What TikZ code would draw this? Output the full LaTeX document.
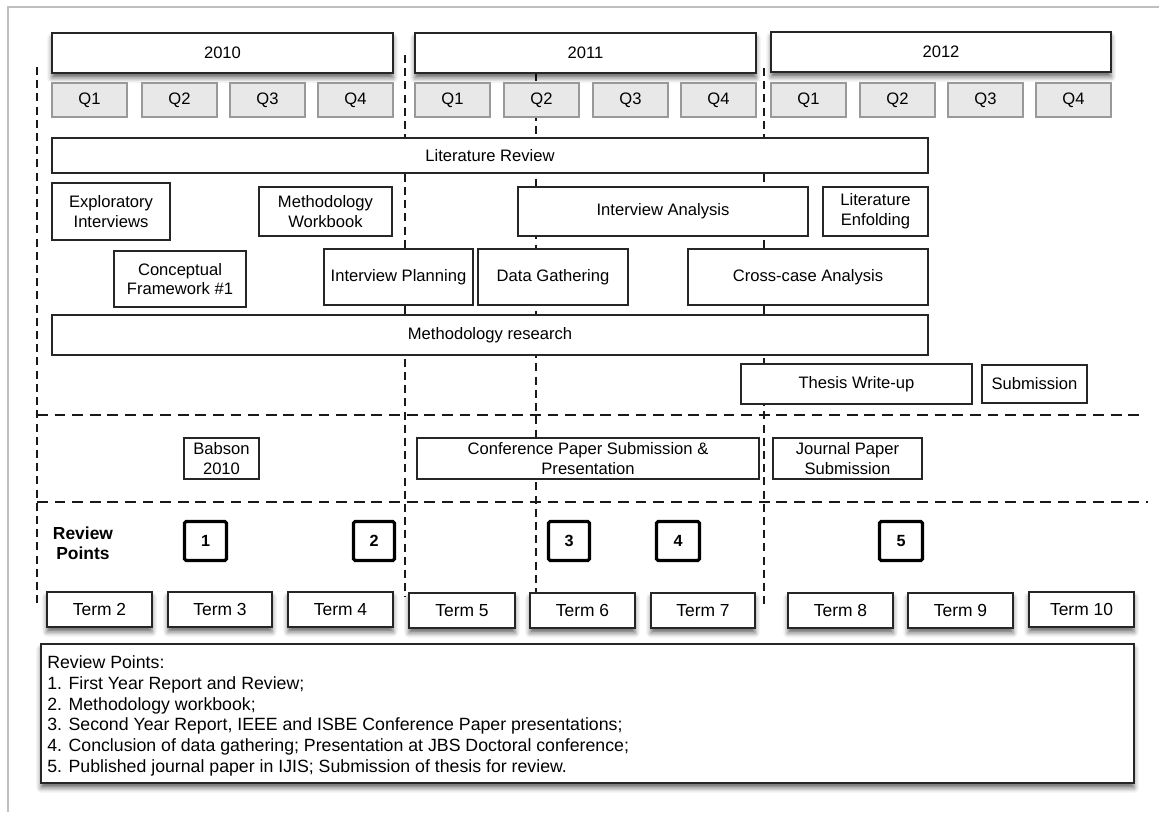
\documentclass[tikz,border=0pt]{standalone}
\usepackage{fontspec}
\setmainfont{Liberation Sans}
\usetikzlibrary{shadows.blur}
\tikzset{
  basebox/.style={draw=black!85, line width=0.8pt, fill=white, inner sep=0pt, align=center,
    font=\fontsize{11.8}{14}\selectfont},
  shadowed/.style={blur shadow={shadow xshift=0pt, shadow yshift=-3.5pt, shadow blur radius=3.5pt, shadow opacity=60}},
  yearbox/.style={basebox, line width=1pt, shadowed},
  qbox/.style={basebox, draw=black!40, fill=black!9},
  taskbox/.style={basebox},
  termbox/.style={basebox, line width=0.9pt, shadowed, font=\fontsize{12.4}{14}\selectfont},
  rpbox/.style={draw=black, line width=2.3pt, rounded corners=1.2pt, fill=white, inner sep=0pt,
    font=\bfseries\fontsize{11.5}{13}\selectfont},
  legendbox/.style={basebox, line width=0.9pt, shadowed},
  legendline/.style={anchor=base west, inner sep=0pt, font=\fontsize{12.6}{14.7}\selectfont},
  vdash/.style={draw=black!90, line width=0.85pt, dash pattern=on 0.2cm off 0.13cm},
  hdash/.style={draw=black!90, line width=0.85pt, dash pattern=on 0.27cm off 0.17cm},
  frameline/.style={draw=black!25, line width=1pt}
}
\newcommand\tbox[7]{%
  \node[#1, minimum width={(#5-#3)*0.025cm}, minimum height={(#6-#4)*0.025cm}] (#2)
    at ({(#3+#5)/2},{(#4+#6)/2}) {#7};}
\begin{document}
\begin{tikzpicture}[x=0.025cm,y=-0.025cm]
\useasboundingbox (0,0) rectangle (1159,812);
% outer frame (cropped)
\draw[frameline] (8,812) -- (8,7) -- (1159,7);

% grid of dashed lines
\coordinate (v1t) at (37,67);  \coordinate (v1b) at (37,607);
\coordinate (v2t) at (405,55); \coordinate (v2b) at (405,597);
\coordinate (v3t) at (536,73); \coordinate (v3b) at (536,592);
\coordinate (v4t) at (764,68); \coordinate (v4b) at (764,608);
\coordinate (h1l) at (37,415); \coordinate (h1r) at (1146,415);
\coordinate (h2l) at (37,502); \coordinate (h2r) at (1148,502);
\draw[vdash] (v1t) -- (v1b);
\draw[vdash] (v2t) -- (v2b);
\draw[vdash] (v3t) -- (v3b);
\draw[vdash] (v4t) -- (v4b);
\draw[hdash] (h1l) -- (h1r);
\draw[hdash] (h2l) -- (h2r);

% years
\tbox{yearbox}{y2010}{52}{33}{393}{73}{2010}
\tbox{yearbox}{y2011}{415}{33}{756}{73}{2011}
\tbox{yearbox}{y2012}{771}{32}{1111}{72}{2012}

% quarters
\tbox{qbox}{a1}{52}{83}{127}{117}{Q1}
\tbox{qbox}{a2}{142}{83}{217}{117}{Q2}
\tbox{qbox}{a3}{230}{83}{305}{117}{Q3}
\tbox{qbox}{a4}{318}{83}{393}{117}{Q4}
\tbox{qbox}{b1}{415}{83}{490}{117}{Q1}
\tbox{qbox}{b2}{504}{83}{579}{117}{Q2}
\tbox{qbox}{b3}{593}{83}{668}{117}{Q3}
\tbox{qbox}{b4}{681}{83}{756}{117}{Q4}
\tbox{qbox}{c1}{771}{83}{846}{117}{Q1}
\tbox{qbox}{c2}{860}{83}{935}{117}{Q2}
\tbox{qbox}{c3}{948}{83}{1023}{117}{Q3}
\tbox{qbox}{c4}{1036}{83}{1111}{117}{Q4}

% activities
\tbox{taskbox}{litrev}{52}{138}{928}{173}{Literature Review}
\tbox{taskbox}{explint}{52}{183}{170}{240}{Exploratory\\Interviews}
\tbox{taskbox}{methwb}{259}{187}{392}{236}{Methodology\\Workbook}
\tbox{taskbox}{intanal}{518}{187}{808}{236}{Interview Analysis}
\tbox{taskbox}{litenf}{823}{187}{928}{236}{Literature\\Enfolding}
\tbox{taskbox}{concfw}{114}{251}{246}{307}{Conceptual\\Framework \#1}
\tbox{taskbox}{intplan}{324}{249}{473}{305}{Interview Planning}
\tbox{taskbox}{datag}{478}{249}{628}{305}{Data Gathering}
\tbox{taskbox}{crossc}{688}{249}{928}{305}{Cross-case Analysis}
\tbox{taskbox}{methres}{52}{315}{928}{355}{Methodology research}
\tbox{taskbox}{thesis}{741}{364}{972}{404}{Thesis Write-up}
\tbox{taskbox}{subm}{982}{365}{1087}{403}{Submission}

% papers
\tbox{taskbox}{babson}{184}{438}{259}{479}{Babson\\2010}
\tbox{taskbox}{confpap}{417}{438}{759}{479}{Conference Paper Submission \&\\Presentation}
\tbox{taskbox}{journal}{773}{438}{922}{479}{Journal Paper\\Submission}

% review points
\node[align=center, inner sep=0pt, font=\bfseries\fontsize{12.4}{14.4}\selectfont] (rplabel) at (83,543) {Review\\Points};
\tbox{rpbox}{rp1}{184.5}{521.5}{226.5}{560.5}{1}
\tbox{rpbox}{rp2}{353.5}{521.5}{394.5}{560.5}{2}
\tbox{rpbox}{rp3}{548.5}{521.5}{589.5}{560.5}{3}
\tbox{rpbox}{rp4}{656.5}{521.5}{699.5}{560.5}{4}
\tbox{rpbox}{rp5}{879.5}{521.5}{922.5}{560.5}{5}

% terms
\tbox{termbox}{t2}{47}{592}{152}{627}{Term 2}
\tbox{termbox}{t3}{168}{592}{272}{627}{Term 3}
\tbox{termbox}{t4}{288}{592}{393}{627}{Term 4}
\tbox{termbox}{t5}{409}{593}{515}{628}{Term 5}
\tbox{termbox}{t6}{530}{593}{635}{628}{Term 6}
\tbox{termbox}{t7}{651}{593}{755}{628}{Term 7}
\tbox{termbox}{t8}{788}{593}{893}{628}{Term 8}
\tbox{termbox}{t9}{908}{593}{1013}{628}{Term 9}
\tbox{termbox}{t10}{1029}{592}{1134}{627}{Term 10}

% legend
\tbox{legendbox}{legend}{41}{644}{1134}{783}{}
\node[legendline] (l0) at (47,668) {Review Points:};
\node[legendline] (l1) at (47,689) {1. First Year Report and Review;};
\node[legendline] (l2) at (47,710) {2. Methodology workbook;};
\node[legendline] (l3) at (47,730) {3. Second Year Report, IEEE and ISBE Conference Paper presentations;};
\node[legendline] (l4) at (47,751) {4. Conclusion of data gathering; Presentation at JBS Doctoral conference;};
\node[legendline] (l5) at (47,772) {5. Published journal paper in IJIS; Submission of thesis for review.};
\end{tikzpicture}
\end{document}
